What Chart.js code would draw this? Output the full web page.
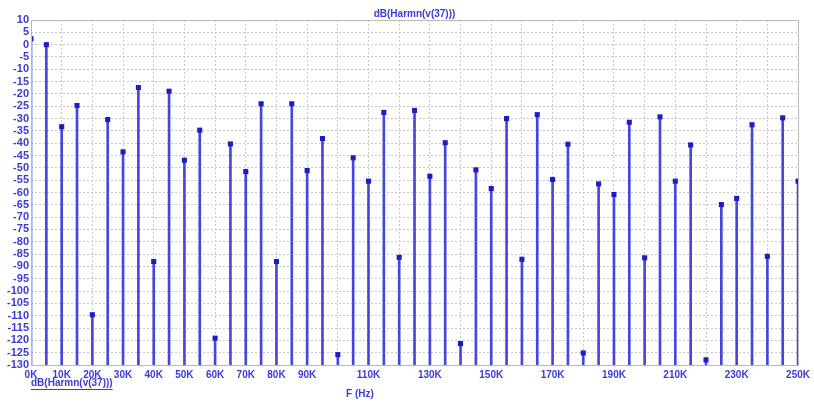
<!DOCTYPE html>
<html>
<head>
<meta charset="utf-8">
<script src="https://cdn.jsdelivr.net/npm/chart.js@4/dist/chart.umd.min.js"></script>
<style>
  html, body { margin: 0; padding: 0; background: #fff; }
  #wrap { width: 814px; height: 403px; }
</style>
</head>
<body>
<div id="wrap"><canvas id="harmChart" width="814" height="403"></canvas></div>
<script>
// frecuencias de los armónicos (Hz)
const freqs = [0, 5000, 10000, 15000, 20000, 25000, 30000, 35000, 40000, 45000,
  50000, 55000, 60000, 65000, 70000, 75000, 80000, 85000, 90000, 95000,
  100000, 105000, 110000, 115000, 120000, 125000, 130000, 135000, 140000, 145000,
  150000, 155000, 160000, 165000, 170000, 175000, 180000, 185000, 190000, 195000,
  200000, 205000, 210000, 215000, 220000, 225000, 230000, 235000, 240000, 245000, 250000];

// dB(Harmn(v(37)))
const harmDb = [2.4, 0, -33.3, -24.7, -109.6, -30.4, -43.5, -17.4, -88, -18.9,
  -46.9, -34.7, -119.1, -40.3, -51.5, -24, -88, -24, -51.1, -38.1,
  -125.8, -45.9, -55.4, -27.5, -86.3, -26.7, -53.4, -39.8, -121.3, -50.8,
  -58.4, -30, -87.1, -28.4, -54.7, -40.4, -125.1, -56.5, -60.8, -31.5,
  -86.5, -29.3, -55.4, -40.7, -127.9, -64.9, -62.4, -32.5, -85.9, -29.7, -55.4];

// etiquetas visibles del eje X (las demás quedan sin texto, como en el original)
const xTickLabels = ['0K', '10K', '20K', '30K', '40K', '50K', '60K', '70K', '80K', '90K',
  '110K', '130K', '150K', '170K', '190K', '210K', '230K', '250K'];

const yMin = -130;
const yMax = 10;
const traceName = 'dB(Harmn(v(37)))';
const xTitle = 'F (Hz)';

const blueText = '#3b3bd6';
const stemColor = '#4646dc';
const markColor = '#1c1cc8';
const gridColor = '#c8c8c8';
const fontFam = "'Liberation Sans', Arial, sans-serif";

// textos y marco del área de trazado
const framePlugin = {
  id: 'frame',
  afterDraw(chart) {
    const { ctx, chartArea: a } = chart;
    ctx.save();
    ctx.strokeStyle = '#b8b8b8';
    ctx.lineWidth = 1;
    ctx.strokeRect(a.left + 0.5, a.top + 0.5, a.right - a.left, a.bottom - a.top);

    ctx.fillStyle = blueText;
    ctx.font = `bold 10px ${fontFam}`;
    ctx.textBaseline = 'middle';
    ctx.textAlign = 'center';
    ctx.fillText(traceName, (a.left + a.right) / 2, 14);
    ctx.fillText(xTitle, 360, 394);

    // etiqueta de la traza (subrayada) bajo el eje
    ctx.textAlign = 'left';
    ctx.fillText(traceName, a.left, 383);
    const w = ctx.measureText(traceName).width;
    ctx.strokeStyle = blueText;
    ctx.beginPath();
    ctx.moveTo(a.left, 389.5);
    ctx.lineTo(a.left + w, 389.5);
    ctx.stroke();
    ctx.restore();
  }
};

const ctx = document.getElementById('harmChart').getContext('2d');
new Chart(ctx, {
  type: 'bar',
  data: {
    datasets: [
      {
        type: 'bar',
        data: freqs.map((f, i) => ({ x: f, y: [yMin, harmDb[i]] })),
        backgroundColor: stemColor,
        borderWidth: 0,
        barThickness: 2,
        order: 2
      },
      {
        type: 'scatter',
        data: freqs.map((f, i) => ({ x: f, y: harmDb[i] })),
        pointStyle: 'rect',
        pointRadius: 3.6,
        backgroundColor: markColor,
        borderColor: markColor,
        borderWidth: 0,
        order: 1
      }
    ]
  },
  options: {
    responsive: false,
    animation: false,
    layout: { padding: { left: 0, right: 12, top: 20, bottom: 0 } },
    plugins: {
      legend: { display: false },
      tooltip: { enabled: false }
    },
    scales: {
      x: {
        type: 'linear',
        min: 0,
        max: 250000,
        offset: false,
        grid: { color: gridColor, drawTicks: false, offset: false },
        border: { display: false, dash: [2, 2] },
        ticks: {
          stepSize: 10000,
          autoSkip: false,
          maxRotation: 0,
          padding: 4,
          color: blueText,
          font: { family: fontFam, size: 10, weight: 'bold' },
          callback: v => {
            const lbl = (v / 1000) + 'K';
            return xTickLabels.includes(lbl) ? lbl : '';
          }
        },
        afterFit: s => { s.height = 38; }
      },
      y: {
        min: yMin,
        max: yMax,
        grid: { color: gridColor, drawTicks: false },
        border: { display: false, dash: [2, 2] },
        ticks: {
          stepSize: 5,
          autoSkip: false,
          padding: 2,
          color: blueText,
          font: { family: fontFam, size: 11, weight: 'bold' }
        },
        afterFit: s => { s.width = 31; }
      }
    }
  },
  plugins: [framePlugin]
});
</script>
</body>
</html>
